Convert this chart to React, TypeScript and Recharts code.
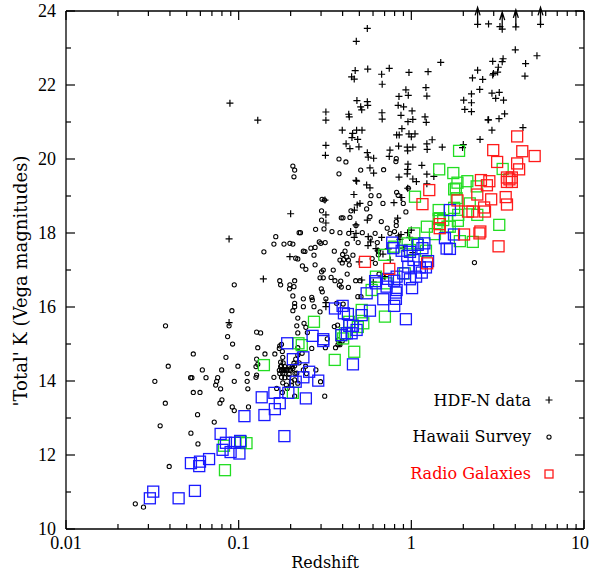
import { ScatterChart, Scatter, XAxis, YAxis, ReferenceLine } from "recharts";

// redshift / K magnitude pairs
const HDF_N: [number, number][] = [
  [0.089, 21.51], [0.129, 21.05], [0.088, 17.84], [0.2, 18.52], [0.198, 17.36], [0.139, 16.76], [0.088, 15.58],
  [0.556, 23.53], [0.48, 23.18], [1.48, 22.61], [0.473, 22.39], [0.559, 22.43], [0.745, 22.45], [0.451, 22.22],
  [0.467, 22.16], [0.673, 22.29], [0.969, 22.34], [1.25, 22.36], [0.678, 22.02], [0.93, 21.87], [1.215, 21.93],
  [0.848, 21.69], [0.96, 21.72], [1.23, 21.7], [0.484, 21.58], [0.556, 21.55], [0.559, 21.45], [0.509, 21.41],
  [0.516, 21.33], [0.839, 21.45], [0.902, 21.41], [0.32, 21.27], [0.32, 21.05], [0.434, 21.21], [0.437, 21.14],
  [0.676, 21.25], [0.678, 21.08], [0.871, 21.18], [1.01, 21.3], [1.02, 21.07], [0.956, 21.01], [1.2, 21.14],
  [1.22, 20.99], [0.398, 20.78], [0.457, 20.69], [0.482, 20.78], [0.518, 20.78], [0.453, 20.58], [0.489, 20.53],
  [0.419, 20.41], [0.441, 20.28], [0.497, 20.33], [0.32, 20.37], [0.318, 20.1], [0.882, 20.82], [0.822, 20.65],
  [0.851, 20.65], [0.969, 20.68], [1.0, 20.6], [1.05, 20.68], [1.32, 20.52], [1.23, 20.41], [1.235, 20.26],
  [1.51, 20.32], [0.844, 20.35], [0.947, 20.32], [0.952, 20.22], [1.02, 20.32], [0.752, 20.24], [0.745, 20.07],
  [0.556, 20.17], [0.563, 20.05], [0.605, 20.02], [0.956, 19.86], [0.952, 19.72], [1.15, 19.83], [0.576, 19.76],
  [0.605, 19.62], [0.848, 19.51], [0.947, 19.6], [1.02, 19.46], [1.07, 19.39], [1.23, 19.59], [1.35, 19.53],
  [0.478, 19.42], [0.551, 19.3], [0.576, 19.22], [0.952, 19.21], [1.23, 19.33],
  [2.42, 23.64], [2.8, 23.65], [3.26, 23.58], [3.36, 23.51], [4.03, 23.57], [5.6, 23.64],
  [4.0, 22.95], [5.34, 22.79], [2.96, 22.64], [3.4, 22.71], [3.36, 22.63], [3.19, 22.48], [3.16, 22.35],
  [2.99, 22.31], [2.96, 22.27], [2.42, 22.4], [4.59, 22.58], [4.55, 22.24], [2.26, 22.19], [2.59, 22.15],
  [2.49, 21.88], [2.23, 21.76], [2.93, 21.78], [3.23, 21.8], [3.08, 21.64], [3.42, 21.59], [2.01, 21.59],
  [2.23, 21.52], [2.04, 21.34], [2.23, 21.28], [3.47, 21.22], [3.22, 21.09], [2.8, 21.06], [2.78, 21.06],
  [4.43, 20.85], [2.93, 20.78], [2.5, 20.53], [2.0, 20.39], [1.98, 20.31],
  [0.482, 19.4], [0.465, 19.04], [0.871, 18.96], [0.88, 18.96], [0.793, 18.82], [0.504, 18.8], [0.486, 18.76],
  [0.468, 18.62], [0.32, 18.49], [0.32, 18.27], [0.556, 18.35], [0.478, 18.22], [0.445, 18.04], [0.478, 17.99],
  [0.467, 17.88], [0.563, 17.9], [0.581, 17.76], [0.561, 17.66], [0.673, 17.88], [0.844, 17.92], [0.859, 17.83],
  [0.871, 17.96], [0.952, 18.01], [0.978, 17.88], [0.624, 17.58], [0.641, 17.52], [0.735, 17.57], [0.755, 17.27],
  [0.898, 17.59], [1.02, 17.47], [0.685, 17.43], [0.499, 17.22], [0.516, 16.73], [0.602, 16.67], [0.703, 16.82],
  [0.32, 16.12], [0.32, 16.01], [0.316, 18.89], [1.0, 18.08], [0.833, 18.4],
];

// lower limits, drawn as upward arrows
const HDF_LIMITS: [number, number][] = [[2.42, 23.64], [3.36, 23.51], [4.03, 23.57], [5.6, 23.64]];

const HAWAII: [number, number][] = [
  [0.381, 20.0], [0.418, 19.92], [0.381, 19.6], [0.509, 19.7], [0.691, 19.71], [0.818, 20.01], [0.814, 19.93],
  [0.206, 19.81], [0.211, 19.7], [0.209, 19.52], [0.96, 19.21], [0.822, 19.1], [0.65, 19.01], [0.584, 19.01],
  [0.839, 19.02], [0.304, 18.91], [0.314, 18.89], [0.576, 18.8], [0.685, 18.8], [0.898, 18.8], [0.447, 18.6],
  [0.302, 18.6], [0.302, 18.35], [0.551, 18.65], [0.393, 18.41], [0.402, 18.41], [0.441, 18.42], [0.576, 18.44],
  [0.67, 18.31], [0.818, 18.31], [0.818, 18.2], [0.93, 18.57], [0.725, 18.13], [0.478, 18.2], [0.279, 18.1],
  [0.312, 18.11], [0.347, 18.04], [0.386, 18.01], [0.228, 18.01], [0.434, 17.99], [0.52, 18.01], [0.578, 17.86],
  [0.617, 17.99], [0.752, 17.99], [0.799, 18.04], [0.635, 17.74], [0.425, 17.71], [0.492, 17.74], [0.293, 17.76],
  [0.317, 17.74], [0.262, 17.59], [0.237, 17.51], [0.358, 17.51], [0.273, 17.4], [0.4, 17.42], [0.413, 17.51],
  [0.423, 17.35], [0.405, 17.28], [0.386, 17.27], [0.432, 17.27], [0.437, 17.14], [0.398, 17.19], [0.459, 17.4],
  [0.644, 17.51], [0.644, 17.41], [0.619, 17.18], [0.593, 17.31], [0.234, 17.11], [0.245, 17.02], [0.309, 17.0],
  [0.353, 17.0], [0.425, 16.89], [0.296, 16.79], [0.309, 16.79], [0.343, 16.8], [0.361, 16.71], [0.39, 16.7],
  [0.383, 16.59], [0.393, 16.54], [0.476, 16.71], [0.504, 16.71], [0.432, 16.53], [0.237, 16.22], [0.265, 16.26],
  [0.267, 16.19], [0.301, 16.49], [0.305, 16.41], [0.49, 16.28], [0.511, 16.28], [0.32, 16.22], [0.369, 16.1],
  [0.403, 16.08], [0.237, 16.01], [0.273, 16.01], [0.296, 15.87], [0.239, 15.56], [0.245, 15.45], [0.25, 15.31],
  [0.358, 15.47], [0.374, 15.51], [0.326, 15.14], [0.378, 15.11], [0.386, 14.98], [0.265, 14.88], [0.233, 14.75],
  [0.65, 16.89], [0.685, 16.82], [0.198, 17.72], [0.242, 17.5], [0.277, 17.61], [0.299, 17.72], [0.214, 17.32],
  [0.277, 17.14], [0.302, 16.95],
  [0.164, 17.9], [0.224, 18.01], [0.16, 17.7], [0.183, 17.7], [0.206, 17.7], [0.14, 17.49], [0.22, 17.3],
  [0.173, 16.71], [0.175, 16.6], [0.211, 16.71], [0.0943, 16.6], [0.197, 16.49], [0.206, 16.3], [0.211, 16.1],
  [0.211, 16.01], [0.206, 15.9], [0.0914, 15.9], [0.22, 15.7], [0.0377, 15.49], [0.088, 15.49], [0.217, 15.49],
  [0.0863, 15.2], [0.134, 15.3], [0.22, 15.3], [0.0922, 15.0], [0.129, 14.9], [0.173, 14.95], [0.172, 14.88],
  [0.179, 14.8], [0.0546, 14.73], [0.142, 14.73], [0.162, 14.73], [0.0391, 14.4], [0.0616, 14.3], [0.0797, 14.3],
  [0.099, 14.4], [0.112, 14.2], [0.0327, 13.99], [0.0527, 14.09], [0.0536, 14.09], [0.0647, 14.09], [0.0756, 14.09],
  [0.0746, 13.99], [0.0736, 13.89], [0.0943, 13.99], [0.112, 13.99], [0.0786, 13.79], [0.113, 13.79], [0.0546, 13.69],
  [0.0597, 13.69], [0.0376, 13.4], [0.08, 13.49], [0.0779, 13.4], [0.0918, 13.3], [0.0943, 13.2], [0.114, 13.3],
  [0.0578, 13.09], [0.0722, 12.89], [0.0351, 12.79], [0.0529, 12.59], [0.0581, 12.3], [0.0396, 11.69],
  [0.0252, 10.68], [0.0281, 10.59], [0.0844, 14.64], [0.127, 15.32], [0.126, 14.39], [0.127, 14.16], [0.129, 14.45],
  [0.127, 14.59],
  [0.18, 14.64], [0.175, 14.51], [0.177, 14.41], [0.18, 14.32], [0.185, 14.3], [0.191, 14.32], [0.198, 14.32],
  [0.206, 14.34], [0.211, 14.41], [0.209, 14.48], [0.214, 14.59], [0.22, 14.7], [0.196, 14.18], [0.185, 14.09],
  [0.18, 13.95], [0.202, 13.98], [0.211, 14.03], [0.22, 13.94], [0.191, 13.8], [0.217, 14.21], [0.198, 16.6],
  [0.209, 16.55], [0.177, 14.99], [0.126, 14.1], [0.181, 14.49], [0.175, 14.39], [0.185, 14.39], [0.196, 14.39],
  [0.204, 14.39], [0.172, 14.29], [0.177, 14.29], [0.183, 14.29], [0.189, 14.29], [0.2, 14.29], [0.173, 14.2],
  [0.18, 14.2], [0.185, 14.2], [0.16, 14.1], [0.177, 14.1], [0.195, 14.1], [0.212, 14.2], [0.224, 14.49],
  [0.237, 14.3], [0.247, 14.2], [0.244, 14.4], [0.28, 14.3], [0.202, 13.89], [0.189, 13.89], [0.166, 13.8],
  [0.179, 13.69], [0.211, 13.59], [0.298, 13.98], [0.315, 13.59], [0.318, 14.9], [0.364, 14.9], [0.376, 14.98],
  [0.384, 15.02], [0.398, 15.08], [0.22, 14.9], [2.32, 17.2],
];

const RG_BLUE: [number, number][] = [
  [0.032, 11.01], [0.0306, 10.83], [0.0449, 10.83], [0.0558, 11.03], [0.0529, 11.78], [0.0597, 11.82],
  [0.0591, 11.7], [0.0674, 11.89], [0.0786, 12.57], [0.0807, 12.14], [0.0898, 12.08], [0.0844, 12.33],
  [0.0951, 12.33], [0.101, 12.04], [0.108, 13.05], [0.136, 13.56], [0.141, 13.08], [0.161, 13.68], [0.162, 13.24],
  [0.173, 13.4], [0.184, 12.51], [0.191, 15.02], [0.206, 14.59], [0.194, 13.68], [0.214, 13.98], [0.309, 15.08],
  [0.237, 14.64], [0.459, 14.45], [0.256, 14.25], [0.289, 14.01], [0.237, 14.1], [0.245, 13.53], [0.102, 12.38],
  [0.361, 15.96], [0.407, 15.83], [0.429, 15.81], [0.516, 15.78], [0.576, 15.9], [0.268, 15.22], [0.309, 15.13],
  [0.393, 15.24], [0.423, 15.29], [0.451, 15.29], [0.482, 15.38], [0.437, 15.49], [0.459, 15.49], [0.688, 16.21],
  [0.796, 16.03], [0.814, 16.39], [0.93, 15.67], [1.01, 16.51], [0.551, 16.37], [0.624, 16.64], [0.732, 16.76],
  [0.822, 16.82], [0.796, 16.71], [0.822, 16.46], [0.814, 16.22], [0.898, 16.91], [0.775, 17.74], [0.879, 17.52],
  [0.982, 17.49], [1.03, 17.27], [1.09, 17.68], [1.16, 17.59], [1.19, 17.72], [1.25, 17.24], [1.215, 17.07],
  [1.12, 17.07], [1.15, 16.93], [1.065, 16.82], [1.565, 17.86], [1.6, 17.58], [1.765, 17.96], [1.673, 18.62],
  [1.673, 17.57], [0.947, 17.38], [0.96, 17.09], [0.982, 16.75], [0.719, 16.55], [0.617, 16.7], [0.786, 17.59],
  [0.4, 16.03],
];

const RG_GREEN: [number, number][] = [
  [0.0822, 12.25], [0.103, 12.36], [0.111, 12.32], [0.0833, 11.59], [0.14, 14.43], [0.206, 13.68], [0.222, 15.02],
  [0.467, 14.79], [0.36, 14.57], [1.05, 18.98], [1.23, 18.17], [0.952, 17.72], [1.04, 17.99], [1.215, 17.52],
  [0.796, 17.63], [0.697, 17.41], [0.918, 16.91], [0.624, 16.82], [0.589, 16.46], [0.719, 16.64], [0.703, 15.74],
  [0.516, 15.92], [0.527, 15.56], [0.437, 15.6], [0.413, 15.29], [0.393, 15.24], [0.273, 15.6], [0.232, 14.97],
  [1.46, 18.4], [1.53, 18.35], [0.49, 15.46], [0.403, 15.15], [1.89, 20.22], [1.45, 19.72], [1.75, 19.62],
  [2.11, 19.4], [1.85, 19.36], [1.81, 19.2], [1.77, 19.18], [2.39, 19.26], [1.83, 18.94], [2.18, 18.8],
  [1.44, 18.62], [1.77, 18.68], [1.87, 18.49], [2.41, 18.49], [1.86, 18.33], [1.44, 18.38], [1.62, 18.17],
  [1.37, 17.97], [1.91, 17.78], [2.27, 17.76], [3.23, 18.22], [1.08, 17.72], [0.982, 17.54], [1.67, 18.17],
  [3.38, 19.73],
];

const RG_RED: [number, number][] = [
  [4.1, 20.61], [2.98, 20.24], [4.39, 20.21], [5.18, 20.08], [3.14, 19.92], [4.1, 19.88], [4.21, 19.72],
  [2.53, 19.43], [2.83, 19.4], [2.74, 19.29], [3.58, 19.5], [3.82, 19.5], [3.58, 19.38], [3.82, 19.38],
  [3.7, 19.45], [1.27, 19.16], [1.16, 18.78], [1.85, 18.88], [2.41, 19.04], [2.9, 18.91], [3.52, 18.97],
  [3.58, 18.77], [2.13, 18.58], [2.26, 18.58], [2.64, 18.69], [2.67, 18.58], [1.46, 18.24], [1.46, 18.13],
  [2.02, 17.96], [2.51, 18.04], [2.48, 17.99], [3.2, 17.64], [0.539, 17.22], [0.745, 17.03], [1.235, 17.18],
];

const X_TICKS = [
  0.01, 0.02, 0.03, 0.04, 0.05, 0.06, 0.07, 0.08, 0.09,
  0.1, 0.2, 0.3, 0.4, 0.5, 0.6, 0.7, 0.8, 0.9,
  1, 2, 3, 4, 5, 6, 7, 8, 9, 10,
];
const X_LABELS: Record<string, string> = { "0.01": "0.01", "0.1": "0.1", "1": "1", "10": "10" };
const Y_TICKS = [10, 11, 12, 13, 14, 15, 16, 17, 18, 19, 20, 21, 22, 23, 24];
const Y_LABELS = [10, 12, 14, 16, 18, 20, 22, 24];

const W = 590;
const H = 571;
const M = { top: 11, right: 6, bottom: 0, left: 0 };
const Y_AXIS_W = 66;
const X_AXIS_H = 42;
const PLOT_W = W - M.left - M.right - Y_AXIS_W;
const PLOT_H = H - M.top - M.bottom - X_AXIS_H;

const toPts = (arr: [number, number][]) => arr.map(([z, k]) => ({ z, k }));

function XTick({ x, y, payload }: any) {
  const label = X_LABELS[String(payload.value)];
  const len = label ? 9 : 5;
  // the last label would run off the right edge, so pull it inside
  const tx = Math.min(x, W - 1 - 9);
  return (
    <g>
      <line x1={x} y1={y} x2={x} y2={y - len} stroke="#000" strokeWidth={1.2} />
      <line x1={x} y1={y - PLOT_H} x2={x} y2={y - PLOT_H + len} stroke="#000" strokeWidth={1.2} />
      {label && (
        <text x={tx} y={y + 20} textAnchor="middle" fontFamily="Liberation Serif" fontSize={18} fill="#000">
          {label}
        </text>
      )}
    </g>
  );
}

function YTick({ x, y, payload }: any) {
  const major = Y_LABELS.includes(payload.value);
  const len = major ? 9 : 5;
  return (
    <g>
      <line x1={x} y1={y} x2={x + len} y2={y} stroke="#000" strokeWidth={1.2} />
      <line x1={x + PLOT_W} y1={y} x2={x + PLOT_W - len} y2={y} stroke="#000" strokeWidth={1.2} />
      {major && (
        <text x={x - 10} y={y + 6} textAnchor="end" fontFamily="Liberation Serif" fontSize={18} fill="#000">
          {payload.value}
        </text>
      )}
    </g>
  );
}

const cross = (cx: number, cy: number) => (
  <path d={`M${cx - 3.5},${cy}H${cx + 3.5}M${cx},${cy - 3.5}V${cy + 3.5}`} stroke="#000" strokeWidth={1.2} fill="none" />
);
const ring = (cx: number, cy: number) => (
  <circle cx={cx} cy={cy} r={2.1} stroke="#000" strokeWidth={1.05} fill="none" />
);
const box = (cx: number, cy: number, color: string, s = 11) => (
  <rect x={cx - s / 2} y={cy - s / 2} width={s} height={s} stroke={color} strokeWidth={1.3} fill="none" />
);
const arrow = (cx: number, cy: number) => (
  <path
    d={`M${cx},${cy}V${cy - 17}M${cx - 2.5},${cy - 9}L${cx},${cy - 17}L${cx + 2.5},${cy - 9}`}
    stroke="#000"
    strokeWidth={1.3}
    fill="none"
  />
);

export default function App() {
  const font = "DejaVu Serif";
  return (
    <div style={{ position: "absolute", left: 0, top: 0, width: W, height: H, background: "#fff" }}>
      <ScatterChart width={W} height={H} margin={M}>
        <XAxis
          type="number"
          dataKey="z"
          scale="log"
          domain={[0.01, 10]}
          ticks={X_TICKS}
          interval={0}
          height={X_AXIS_H}
          tickSize={0}
          tickMargin={0}
          tickLine={false}
          axisLine={{ stroke: "#000", strokeWidth: 1.3 }}
          tick={(p: any) => <XTick {...p} />}
        />
        <YAxis
          type="number"
          dataKey="k"
          domain={[10, 24]}
          ticks={Y_TICKS}
          interval={0}
          width={Y_AXIS_W}
          tickSize={0}
          tickMargin={0}
          tickLine={false}
          axisLine={{ stroke: "#000", strokeWidth: 1.3 }}
          tick={(p: any) => <YTick {...p} />}
        />
        <ReferenceLine y={24} stroke="#000" strokeWidth={1.3} />
        <ReferenceLine x={10} stroke="#000" strokeWidth={1.3} />
        <Scatter data={toPts(HAWAII)} isAnimationActive={false} shape={(p: any) => ring(p.cx, p.cy)} />
        <Scatter data={toPts(HDF_N)} isAnimationActive={false} shape={(p: any) => cross(p.cx, p.cy)} />
        <Scatter data={toPts(RG_GREEN)} isAnimationActive={false} shape={(p: any) => box(p.cx, p.cy, "#22dd22")} />
        <Scatter data={toPts(RG_BLUE)} isAnimationActive={false} shape={(p: any) => box(p.cx, p.cy, "#1a1aff")} />
        <Scatter data={toPts(RG_RED)} isAnimationActive={false} shape={(p: any) => box(p.cx, p.cy, "#ff1a1a")} />
        <Scatter data={toPts(HDF_LIMITS)} isAnimationActive={false} shape={(p: any) => arrow(p.cx, p.cy)} />
      </ScatterChart>
      <svg width={W} height={H} style={{ position: "absolute", left: 0, top: 0, pointerEvents: "none" }}>
        <text x={325} y={568} textAnchor="middle" fontFamily={font} fontSize={16} fill="#000">
          Redshift
        </text>
        <text transform="translate(27,281) rotate(-90)" textAnchor="middle" fontFamily={font} fontSize={18} fill="#000">
          'Total' K (Vega magnitudes)
        </text>
        <text x={531} y={406} textAnchor="end" fontFamily={font} fontSize={16} fill="#000">HDF-N data</text>
        {cross(549, 400)}
        <text x={531} y={442} textAnchor="end" fontFamily={font} fontSize={16} fill="#000">Hawaii Survey</text>
        {ring(549, 437)}
        <text x={531} y={479} textAnchor="end" fontFamily={font} fontSize={16} fill="#ff0000">Radio Galaxies</text>
        {box(549, 474, "#ff1a1a", 8)}
      </svg>
    </div>
  );
}
